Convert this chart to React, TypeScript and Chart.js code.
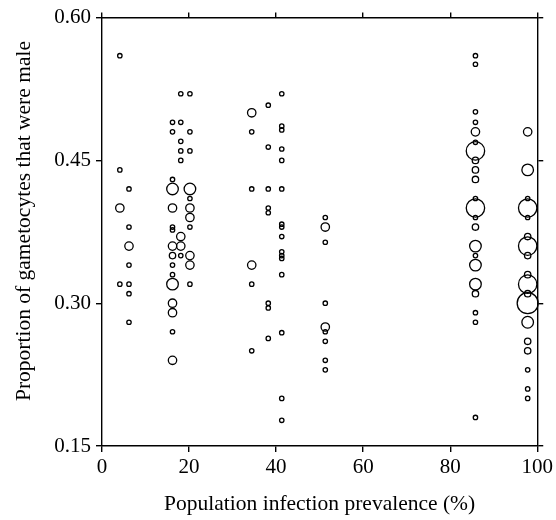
import { useEffect, useRef } from "react";
import { Chart, registerables } from "chart.js";

Chart.register(...registerables);

// Population infection prevalence (%) of each sampled population (x position)
const prevalence = [4.1, 6.2, 16.2, 18.1, 20.2, 34.4, 38.2, 41.3, 51.3, 85.8, 97.8];

// Proportion of gametocytes that were male, one array per population
const popA = [0.56, 0.44, 0.40, 0.32];
const popB = [0.42, 0.38, 0.36, 0.34, 0.32, 0.31, 0.28];
const popC = [0.49, 0.48, 0.43, 0.42, 0.40, 0.38, 0.377, 0.36, 0.35, 0.34, 0.33, 0.32, 0.30, 0.29, 0.27, 0.24];
const popD = [0.52, 0.49, 0.47, 0.46, 0.45, 0.37, 0.36, 0.35];
const popE = [0.52, 0.48, 0.46, 0.42, 0.41, 0.40, 0.39, 0.38, 0.35, 0.34, 0.32];
const popF = [0.50, 0.48, 0.42, 0.34, 0.32, 0.25];
const popG = [0.508, 0.464, 0.42, 0.40, 0.395, 0.30, 0.295, 0.263];
const popH = [0.52, 0.486, 0.482, 0.462, 0.45, 0.42, 0.383, 0.38, 0.37, 0.354, 0.35, 0.347, 0.33, 0.269, 0.20, 0.177];
const popI = [0.39, 0.38, 0.364, 0.30, 0.275, 0.27, 0.26, 0.24, 0.23];
const popJ = [0.56, 0.551, 0.501, 0.49, 0.48, 0.469, 0.46, 0.45, 0.44, 0.43, 0.41, 0.40, 0.39, 0.38, 0.36, 0.35, 0.34, 0.32, 0.31, 0.29, 0.28, 0.18];
const popK = [0.48, 0.44, 0.41, 0.40, 0.39, 0.37, 0.36, 0.35, 0.33, 0.32, 0.31, 0.30, 0.28, 0.26, 0.25, 0.23, 0.21, 0.20];

// Relative sample-size class of each measurement (1 = smallest … 6 = largest)
const sizeA = [1, 1, 3, 1];
const sizeB = [1, 1, 3, 1, 1, 1, 1];
const sizeC = [1, 1, 1, 4, 3, 1, 1, 3, 2, 1, 1, 4, 3, 3, 1, 3];
const sizeD = [1, 1, 1, 1, 1, 3, 3, 1];
const sizeE = [1, 1, 1, 4, 1, 3, 3, 1, 3, 3, 1];
const sizeF = [3, 1, 1, 3, 1, 1];
const sizeG = [1, 1, 1, 1, 1, 1, 1, 1];
const sizeH = [1, 1, 1, 1, 1, 1, 1, 1, 1, 1, 1, 1, 1, 1, 1, 1];
const sizeI = [1, 3, 1, 1, 3, 1, 1, 1, 1];
const sizeJ = [1, 1, 1, 1, 3, 1, 5, 2, 2, 2, 1, 5, 1, 2, 4, 1, 4, 4, 2, 1, 1, 1];
const sizeK = [3, 4, 1, 5, 1, 2, 5, 2, 2, 5, 2, 6, 4, 2, 2, 1, 1, 1];

const xTicks = [0, 20, 40, 60, 80, 100];
const yTicks = [0.15, 0.3, 0.45, 0.6];

const proportions = [popA, popB, popC, popD, popE, popF, popG, popH, popI, popJ, popK];
const sizes = [sizeA, sizeB, sizeC, sizeD, sizeE, sizeF, sizeG, sizeH, sizeI, sizeJ, sizeK];

const radiusByClass = [0, 2.2, 3.2, 4.2, 5.8, 9.2, 10.5];

const serif = "'Liberation Serif', 'Times New Roman', serif";

export default function App() {
  const ref = useRef<HTMLCanvasElement | null>(null);

  useEffect(() => {
    if (!ref.current) return;
    const points: { x: number; y: number; w: number }[] = [];
    prevalence.forEach((x, i) => {
      proportions[i].forEach((y, j) => points.push({ x, y, w: sizes[i][j] }));
    });

    const axisCommon = (isX: boolean) => ({
      type: "linear" as const,
      min: isX ? 0 : 0.15,
      max: isX ? 100 : 0.6,
      afterBuildTicks: (s: any) => {
        s.ticks = (isX ? xTicks : yTicks).map((v) => ({ value: v }));
      },
      grid: { drawOnChartArea: false, drawTicks: true, tickLength: 6, color: "#000", lineWidth: 1.4 },
      border: { display: true, color: "#000", width: 1.4 },
    });

    const chart = new Chart(ref.current, {
      type: "scatter",
      data: {
        datasets: [
          {
            data: points as any,
            borderColor: "#000",
            backgroundColor: "rgba(0,0,0,0)",
            pointBorderWidth: 1.3,
            pointRadius: (ctx: any) => radiusByClass[ctx.raw ? ctx.raw.w : 1],
            pointHoverRadius: (ctx: any) => radiusByClass[ctx.raw ? ctx.raw.w : 1],
            showLine: false,
            clip: false as any,
          },
        ],
      },
      options: {
        animation: false,
        responsive: false,
        maintainAspectRatio: false,
        devicePixelRatio: 1,
        layout: { padding: 0 },
        plugins: { legend: { display: false }, tooltip: { enabled: false } },
        scales: {
          x: {
            ...axisCommon(true),
            position: "bottom",
            ticks: {
              color: "#000",
              font: { family: serif, size: 21 },
              padding: 3,
              maxRotation: 0,
              autoSkip: false,
            },
            title: {
              display: true,
              text: "Population infection prevalence (%)",
              color: "#000",
              font: { family: serif, size: 21.5 },
              padding: { top: 0, bottom: 3 },
            },
            afterFit: (s: any) => {
              s.height = 74;
            },
          },
          y: {
            ...axisCommon(false),
            position: "left",
            ticks: {
              color: "#000",
              font: { family: serif, size: 21 },
              padding: 5,
              autoSkip: false,
              callback: (v: any) => Number(v).toFixed(2),
            },
            title: {
              display: true,
              text: "\u2002\u2002Proportion of gametocytes that were male",
              color: "#000",
              font: { family: serif, size: 21.5 },
              padding: { top: 11, bottom: 0 },
            },
            afterFit: (s: any) => {
              s.width = 102;
            },
          },
          x2: {
            ...axisCommon(true),
            axis: "x",
            position: "top",
            ticks: { display: false },
            grid: { drawOnChartArea: false, drawTicks: true, tickLength: 5, color: "#000", lineWidth: 1.4 },
            afterFit: (s: any) => {
              s.height = 15;
            },
          },
          y2: {
            ...axisCommon(false),
            axis: "y",
            position: "right",
            ticks: { display: false },
            afterFit: (s: any) => {
              s.width = 18;
            },
          },
        },
      } as any,
    });

    return () => chart.destroy();
  }, []);

  return (
    <div style={{ position: "fixed", left: 0, top: 0, width: 556, height: 520, background: "#fff" }}>
      <canvas ref={ref} width={556} height={520} style={{ width: 556, height: 520, display: "block" }} />
    </div>
  );
}
